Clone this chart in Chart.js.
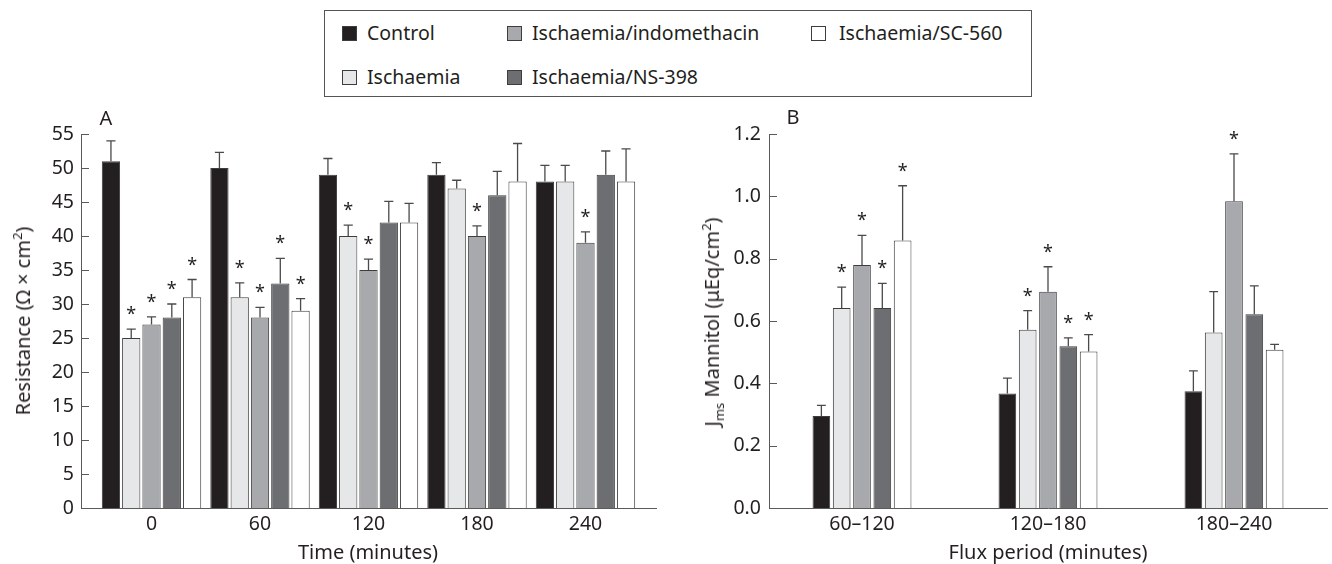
<!DOCTYPE html>
<html>
<head>
<meta charset="utf-8">
<script src="https://cdn.jsdelivr.net/npm/chart.js@4"></script>
<style>
  body { margin: 0; background: #fff; font-family: "Noto Sans", sans-serif; color: #231f20; }
  #page { position: relative; width: 1332px; height: 564px; overflow: hidden; }
  .abs { position: absolute; white-space: nowrap; font-size: 19.5px; line-height: 1; }
  .ttl { font-size: 20px; }
  .ctr { transform: translate(-50%, -50%); }
  .rot { transform: translate(-50%, -50%) rotate(-90deg); }
  .sq { position: absolute; width: 13px; height: 13px; border: 1px solid #3d3d3d; }
  #legend { position: absolute; left: 324px; top: 10px; width: 706px; height: 85px; border: 1px solid #555; }
  sub, sup { font-size: 13px; line-height: 0; }
</style>
</head>
<body>
<div id="page">
  <canvas id="chartA" width="666" height="464" style="position:absolute;left:0;top:100px"></canvas>
  <canvas id="chartB" width="662" height="464" style="position:absolute;left:670px;top:100px"></canvas>
  <div id="legend"></div>
  <div class="abs ttl ctr" style="left:106px;top:118px">A</div>
  <div class="abs ttl ctr" style="left:793px;top:117px">B</div>
  <div class="abs ttl rot" style="left:23px;top:321px">Resistance (Ω × cm<sup>2</sup>)</div>
  <div class="abs ttl rot" style="left:712px;top:322px">J<sub>ms</sub> Mannitol (μEq/cm<sup>2</sup>)</div>
  <div class="abs ttl ctr" style="left:368px;top:552px">Time (minutes)</div>
  <div class="abs ttl ctr" style="left:1048px;top:552px">Flux period (minutes)</div>
</div>
<script>
// groups
const timePoints = [0, 60, 120, 180, 240];
const fluxPeriods = ['60–120', '120–180', '180–240'];
const seriesNames = ['Control', 'Ischaemia', 'Ischaemia/indomethacin', 'Ischaemia/NS-398', 'Ischaemia/SC-560'];
const seriesColors = ['#231f20', '#e6e7e8', '#a7a9ac', '#6d6e71', '#ffffff'];

// panel A: resistance (ohm x cm2), mean and SE
const resControl = [51, 50, 49, 49, 48];
const resIsch = [25, 31, 40, 47, 48];
const resIndo = [27, 28, 35, 40, 39];
const resNS = [28, 33, 42, 46, 49];
const resSC = [31, 29, 42, 48, 48];
const resErrControl = [3.0, 2.3, 2.4, 1.8, 2.4];
const resErrIsch = [1.3, 2.1, 1.6, 1.2, 2.4];
const resErrIndo = [1.1, 1.5, 1.6, 1.5, 1.6];
const resErrNS = [2.0, 3.7, 3.1, 3.5, 3.5];
const resErrSC = [2.6, 1.8, 2.8, 5.6, 4.8];
const resStarControl = [0, 0, 0, 0, 0];
const resStarIsch = [1, 1, 1, 0, 0];
const resStarIndo = [1, 1, 1, 1, 1];
const resStarNS = [1, 1, 0, 0, 0];
const resStarSC = [1, 1, 0, 0, 0];

// panel B: Jms mannitol (uEq/cm2), mean and SE
const manControl = [0.295, 0.367, 0.375];
const manIsch = [0.642, 0.572, 0.563];
const manIndo = [0.780, 0.694, 0.984];
const manNS = [0.642, 0.519, 0.622];
const manSC = [0.858, 0.502, 0.508];
const manErrControl = [0.034, 0.050, 0.065];
const manErrIsch = [0.067, 0.061, 0.131];
const manErrIndo = [0.095, 0.080, 0.152];
const manErrNS = [0.079, 0.027, 0.091];
const manErrSC = [0.176, 0.054, 0.017];
const manStarControl = [0, 0, 0];
const manStarIsch = [1, 1, 0];
const manStarIndo = [1, 1, 1];
const manStarNS = [1, 1, 0];
const manStarSC = [1, 1, 0];

const FONT = '"Noto Sans", sans-serif';
const INK = '#231f20';
const AXIS = '#5a5a5a';

// legend (html)
const legendPos = [
  { sq: 17, tx: 42, y: 22 },
  { sq: 17, tx: 42, y: 66 },
  { sq: 182, tx: 207, y: 22 },
  { sq: 182, tx: 207, y: 66 },
  { sq: 486, tx: 514, y: 22 }
];
const legend = document.getElementById('legend');
seriesNames.forEach((name, i) => {
  const p = legendPos[i];
  const s = document.createElement('div');
  s.className = 'sq';
  s.style.left = p.sq + 'px';
  s.style.top = (p.y - 7) + 'px';
  s.style.background = seriesColors[i];
  legend.appendChild(s);
  const t = document.createElement('div');
  t.className = 'abs';
  t.style.left = p.tx + 'px';
  t.style.top = (p.y - 10) + 'px';
  t.textContent = name;
  legend.appendChild(t);
});

// error bars + asterisks, drawn from the bar elements and the y scale
const errorBars = {
  id: 'errorBars',
  afterDatasetsDraw(chart) {
    const ctx = chart.ctx;
    const ys = chart.scales.y;
    ctx.save();
    chart.data.datasets.forEach((ds, di) => {
      const meta = chart.getDatasetMeta(di);
      meta.data.forEach((bar, i) => {
        const v = meta.controller.getParsed(i).y;
        const top = ys.getPixelForValue(v + ds.errors[i]);
        const cap = bar.width * 0.5;
        ctx.strokeStyle = '#4a4a4a';
        ctx.lineWidth = 1.3;
        ctx.beginPath();
        ctx.moveTo(bar.x, bar.y);
        ctx.lineTo(bar.x, top);
        ctx.moveTo(bar.x - cap / 2, top);
        ctx.lineTo(bar.x + cap / 2, top);
        ctx.stroke();
        if (ds.stars[i]) {
          ctx.fillStyle = INK;
          ctx.font = '18px ' + FONT;
          ctx.textAlign = 'center';
          ctx.textBaseline = 'alphabetic';
          ctx.fillText('*', bar.x, top - 9);
        }
      });
    });
    ctx.restore();
  },
  afterDraw(chart) {
    // inward tick marks on the y axis
    const ctx = chart.ctx;
    const ys = chart.scales.y;
    const x0 = chart.chartArea.left;
    ctx.save();
    ctx.strokeStyle = AXIS;
    ctx.lineWidth = 1;
    ys.ticks.forEach(t => {
      const py = Math.round(ys.getPixelForValue(t.value)) + 0.5;
      ctx.beginPath();
      ctx.moveTo(x0, py);
      ctx.lineTo(x0 + 8, py);
      ctx.stroke();
    });
    ctx.restore();
  }
};

function makeSets(vals, errs, stars, xs) {
  return vals.map((v, k) => ({
    label: seriesNames[k],
    data: xs ? v.map((y, i) => ({ x: xs[i], y })) : v,
    errors: errs[k],
    stars: stars[k],
    backgroundColor: seriesColors[k],
    borderColor: '#3d3d3d',
    borderWidth: 1
  }));
}

const tickFont = { family: FONT, size: 19.5 };

new Chart(document.getElementById('chartA'), {
  type: 'bar',
  data: {
    datasets: makeSets(
      [resControl, resIsch, resIndo, resNS, resSC],
      [resErrControl, resErrIsch, resErrIndo, resErrNS, resErrSC],
      [resStarControl, resStarIsch, resStarIndo, resStarNS, resStarSC],
      timePoints)
  },
  options: {
    responsive: false,
    animation: false,
    barPercentage: 0.9,
    categoryPercentage: 0.935,
    layout: { padding: { left: 0, top: 34, right: 10, bottom: 0 } },
    plugins: { legend: { display: false }, tooltip: { enabled: false } },
    scales: {
      x: {
        type: 'linear',
        min: -39,
        max: 279,
        offset: false,
        afterBuildTicks: s => { s.ticks = timePoints.map(v => ({ value: v })); },
        afterFit: s => { s.height = 56; },
        grid: { display: false, drawTicks: false },
        border: { display: true, color: AXIS, width: 1 },
        ticks: { font: tickFont, color: INK, padding: 5, maxRotation: 0 }
      },
      y: {
        min: 0,
        max: 55,
        afterFit: s => { s.width = 81; },
        grid: { display: false, drawTicks: false },
        border: { display: true, color: AXIS, width: 1 },
        ticks: { stepSize: 5, font: tickFont, color: INK, padding: 7 }
      }
    }
  },
  plugins: [errorBars]
});

new Chart(document.getElementById('chartB'), {
  type: 'bar',
  data: {
    labels: fluxPeriods,
    datasets: makeSets(
      [manControl, manIsch, manIndo, manNS, manSC],
      [manErrControl, manErrIsch, manErrIndo, manErrNS, manErrSC],
      [manStarControl, manStarIsch, manStarIndo, manStarNS, manStarSC])
  },
  options: {
    responsive: false,
    animation: false,
    barPercentage: 0.87,
    categoryPercentage: 0.546,
    layout: { padding: { left: 0, top: 34, right: 5, bottom: 0 } },
    plugins: { legend: { display: false }, tooltip: { enabled: false } },
    scales: {
      x: {
        afterFit: s => { s.height = 56; },
        grid: { display: false, drawTicks: false },
        border: { display: true, color: AXIS, width: 1 },
        ticks: { font: tickFont, color: INK, padding: 5, maxRotation: 0 }
      },
      y: {
        min: 0,
        max: 1.2,
        afterFit: s => { s.width = 99; },
        grid: { display: false, drawTicks: false },
        border: { display: true, color: AXIS, width: 1 },
        ticks: { stepSize: 0.2, font: tickFont, color: INK, padding: 8, callback: v => v.toFixed(1) }
      }
    }
  },
  plugins: [errorBars]
});
</script>
</body>
</html>
